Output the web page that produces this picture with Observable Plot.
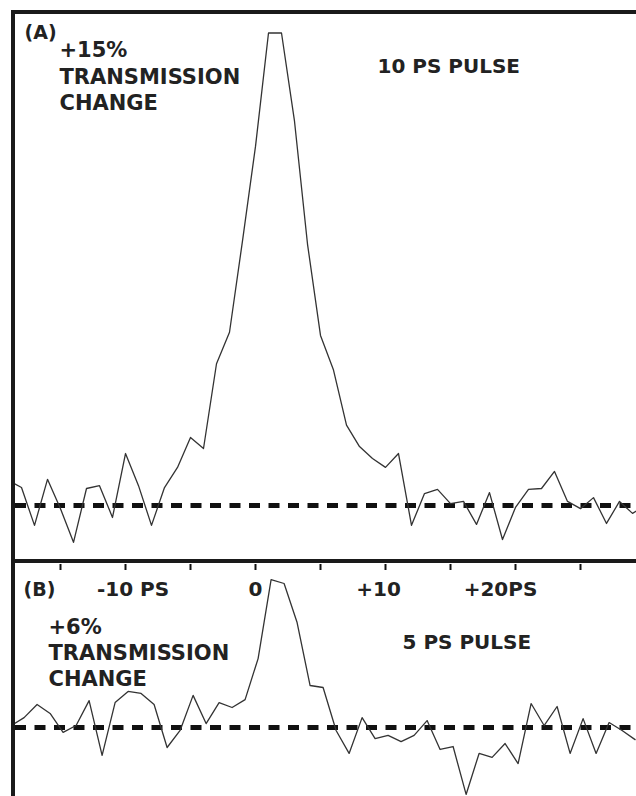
<!DOCTYPE html>
<html><head><meta charset="utf-8">
<script src="https://cdn.jsdelivr.net/npm/d3@7"></script>
<script src="https://cdn.jsdelivr.net/npm/@observablehq/plot@0.6"></script>
<style>
html,body{margin:0;padding:0;background:#fff;}
#frame{position:absolute;left:11px;top:10px;width:625px;height:786px;border-top:4px solid #1a1a1a;border-left:4px solid #1a1a1a;box-sizing:border-box;}
#a{height:545px;}
#b{border-top:4px solid #1a1a1a;height:233px;}
svg{display:block;}
</style>
</head><body>
<div id="frame"><div id="a"></div><div id="b"></div></div>
<script>
// Panel A: 10 ps pulse, time (ps) and transmission change (%)
const timesA = [-19,-18,-17,-16,-15,-14,-13,-12,-11,-10,-9,-8,-7,-6,-5,-4,-3,-2,-1,0,1,2,3,4,5,6,7,8,9,10,11,12,13,14,15,16,17,18,19,20,21,22,23,24,25,26,27,28,29,30];
const valuesA = [0.8,0.57,-0.63,0.83,-0.1,-1.17,0.54,0.63,-0.38,1.65,0.63,-0.63,0.57,1.21,2.16,1.81,4.5,5.5,8.4,11.4,15.0,15.0,12.2,8.3,5.4,4.3,2.55,1.87,1.49,1.21,1.65,-0.63,0.38,0.51,0.06,0.13,-0.6,0.41,-1.08,-0.06,0.51,0.54,1.08,0.13,-0.1,0.25,-0.57,0.13,-0.25,0.0];
// Panel B: 5 ps pulse
const timesB = [-18.8,-17.8,-16.8,-15.8,-14.8,-13.8,-12.8,-11.8,-10.8,-9.8,-8.8,-7.8,-6.8,-5.8,-4.8,-3.8,-2.8,-1.8,-0.8,0.2,1.2,2.2,3.2,4.2,5.2,6.2,7.2,8.2,9.2,10.2,11.2,12.2,13.2,14.2,15.2,16.2,17.2,18.2,19.2,20.2,21.2,22.2,23.2,24.2,25.2,26.2,27.2,28.2,29.2];
const valuesB = [0.08,0.40,0.93,0.57,-0.20,0.08,1.09,-1.13,1.01,1.46,1.38,0.93,-0.81,-0.12,1.30,0.16,1.01,0.81,1.13,2.79,5.99,5.83,4.25,1.70,1.62,-0.12,-1.05,0.40,-0.45,-0.32,-0.57,-0.32,0.28,-0.89,-0.77,-2.71,-1.05,-1.21,-0.65,-1.46,0.97,0.08,0.85,-1.05,0.36,-1.05,0.20,-0.12,-0.49];
const tickValues = [-15,-10,-5,0,5,10,15,20,25];
const tickLabels = ["-10 PS","0","+10","+20PS"];
const tickLabelAt = [-10,0,10,20];
const labelA = ["(A)","+15%\nTRANSMISSION\nCHANGE","10 PS PULSE"];
const labelB = ["(B)","+6%\nTRANSMISSION\nCHANGE","5 PS PULSE"];

const dataA = timesA.map((t,i)=>({t, v: valuesA[i]}));
const dataB = timesB.map((t,i)=>({t, v: valuesB[i]}));
const font = {fontFamily:"DejaVu Sans", fontWeight:"bold", fill:"#222", textAnchor:"start", lineAnchor:"top", frameAnchor:"top-left"};
const xDomain = [-240/13, 381/13];

const plotA = Plot.plot({
  width: 621, height: 545, margin: 0,
  x: {domain: xDomain, axis: null},
  y: {domain: [-54/31.5, 491/31.5], axis: null},
  marks: [
    Plot.ruleY([0], {stroke:"#111", strokeWidth:5, strokeDasharray:"11,8.5"}),
    Plot.line(dataA, {x:"t", y:"v", stroke:"#333", strokeWidth:1.3, clip:true}),
    Plot.text([labelA[0]], {...font, text:d=>d, fontSize:19, dx:9, dy:10.5}),
    Plot.text([labelA[1]], {...font, text:d=>d, fontSize:21, lineHeight:1.26, dx:44, dy:24}),
    Plot.text([labelA[2]], {...font, text:d=>d, fontSize:20, dx:362, dy:44})
  ]
});
document.getElementById("a").appendChild(plotA);

const labelDx = [7.5, 0, -7, -15];
const plotB = Plot.plot({
  width: 621, height: 233, margin: 0,
  x: {domain: xDomain, axis: null},
  y: {domain: [-69/24.7, 164/24.7], axis: null},
  marks: [
    Plot.axisX({anchor:"top", ticks: tickValues, tickSize:-6, tickFormat:()=>"", label:null, stroke:"#111", strokeWidth:2}),
    Plot.ruleY([0], {stroke:"#111", strokeWidth:5, strokeDasharray:"11,8.5"}),
    Plot.line(dataB, {x:"t", y:"v", stroke:"#333", strokeWidth:1.3, clip:true}),
    ...tickLabels.map((lab,i)=>Plot.text([lab], {x:()=>tickLabelAt[i], text:d=>d, frameAnchor:"top", textAnchor:"middle", lineAnchor:"top", fontFamily:"DejaVu Sans", fontWeight:"bold", fill:"#222", fontSize:20, dx:labelDx[i], dy:17.8})),
    Plot.text([labelB[0]], {...font, text:d=>d, fontSize:19, dx:8, dy:18.5}),
    Plot.text([labelB[1]], {...font, text:d=>d, fontSize:21, lineHeight:1.24, dx:33, dy:52}),
    Plot.text([labelB[2]], {...font, text:d=>d, fontSize:20, dx:387, dy:71})
  ]
});
document.getElementById("b").appendChild(plotB);
</script>
</body></html>
